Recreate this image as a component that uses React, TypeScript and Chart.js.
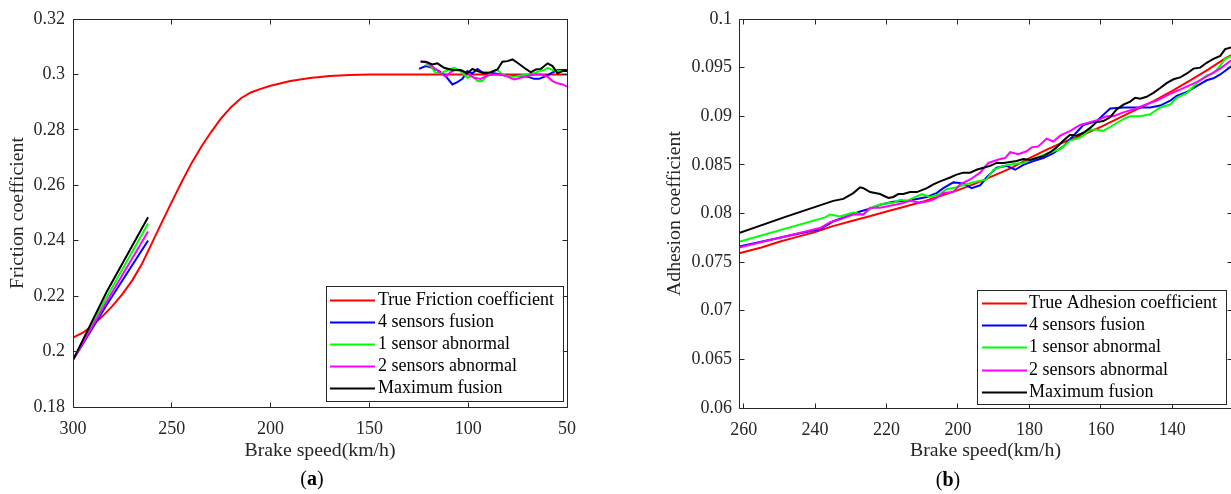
import React, { useEffect, useRef } from "react";
import { Chart, registerables } from "chart.js";

Chart.register(...registerables);

const FONT = "'Liberation Serif', 'Times New Roman', Times, serif";
const AXIS_COLOR = "#262626";

Chart.defaults.font.family = FONT;
Chart.defaults.font.size = 18;
Chart.defaults.color = AXIS_COLOR;

const LABELS = ["4 sensors fusion", "1 sensor abnormal", "2 sensors abnormal", "Maximum fusion"];
const COLORS = { red: "#ff0000", blue: "#0000ff", green: "#00ff00", magenta: "#ff00ff", black: "#000000" };

// ---------------- Panel (a): friction coefficient ----------------
const aXTicks = [50, 100, 150, 200, 250, 300];
const aYTicks = [0.18, 0.2, 0.22, 0.24, 0.26, 0.28, 0.3, 0.32];

const aTrueSpeed = [300, 295, 290, 285, 280, 275, 270, 265, 260, 255, 250, 245, 240, 235, 230, 225, 220, 215, 210, 205, 200, 190, 180, 170, 160, 150, 100, 50];
const aTrueValue = [0.205, 0.2068, 0.2095, 0.2128, 0.2165, 0.2207, 0.2257, 0.2318, 0.2392, 0.2467, 0.254, 0.2612, 0.268, 0.274, 0.2793, 0.2842, 0.2882, 0.2914, 0.2935, 0.2948, 0.2959, 0.2976, 0.2987, 0.2994, 0.2998, 0.3, 0.3, 0.3];

const aSteepSpeed = [300, 283, 262];
const aBlueSteep = [0.197, 0.2168, 0.2401];
const aGreenSteep = [0.197, 0.2195, 0.2462];
const aMagentaSteep = [0.197, 0.218, 0.2433];
const aBlackSteep = [0.197, 0.2215, 0.2485];

const aBlueNoisySpeed = [124.9, 121.5, 118.1, 114.8, 111.4, 108.0, 105.5, 102.9, 100.4, 97.9, 95.3, 92.8, 90.3, 86.9, 83.5, 80.1, 76.7, 73.4, 70.0, 66.6, 64.1, 60.7, 58.2, 54.8, 51.4, 50];
const aBlueNoisy = [0.302, 0.303, 0.3024, 0.3012, 0.2994, 0.2964, 0.2972, 0.2984, 0.3012, 0.3004, 0.302, 0.3008, 0.3006, 0.3004, 0.3, 0.2994, 0.2994, 0.2996, 0.2992, 0.2984, 0.2984, 0.2994, 0.3004, 0.3016, 0.3016, 0.3016];

const aGreenNoisySpeed = [121.5, 119.0, 116.5, 113.9, 110.5, 107.1, 104.6, 102.1, 100.4, 97.9, 95.3, 92.8, 90.3, 87.7, 85.2, 82.7, 80.1, 76.7, 73.4, 70.0, 66.6, 64.1, 61.5, 59.8, 57.3, 54.8, 50];
const aGreenNoisy = [0.3036, 0.303, 0.3006, 0.3004, 0.3016, 0.3024, 0.3016, 0.3, 0.2988, 0.2994, 0.2976, 0.2976, 0.2994, 0.3012, 0.3016, 0.3, 0.2994, 0.2992, 0.2996, 0.3, 0.3004, 0.3012, 0.3016, 0.3024, 0.3016, 0.3012, 0.3012];

const aMagentaNoisySpeed = [124.1, 120.7, 117.3, 113.9, 111.4, 108.9, 106.6, 102.9, 100.4, 97.0, 93.6, 90.3, 86.9, 83.5, 80.1, 76.7, 73.4, 70.0, 66.6, 63.2, 59.8, 57.3, 54.8, 52.2, 50];
const aMagentaNoisy = [0.3048, 0.3042, 0.3024, 0.3004, 0.2992, 0.3008, 0.3016, 0.3012, 0.3004, 0.2988, 0.2984, 0.2996, 0.3, 0.3, 0.2992, 0.2982, 0.2988, 0.2994, 0.3, 0.3, 0.2992, 0.2976, 0.2968, 0.2964, 0.2956];

const aBlackNoisySpeed = [124.1, 121.5, 118.1, 115.6, 112.2, 108.0, 103.8, 100.4, 97.9, 95.3, 92.0, 88.6, 85.2, 82.7, 80.1, 77.6, 75.1, 71.7, 68.3, 65.7, 63.2, 59.8, 57.3, 54.8, 52.2, 50];
const aBlackNoisy = [0.3046, 0.3046, 0.3036, 0.304, 0.3024, 0.3016, 0.3016, 0.3004, 0.302, 0.3012, 0.3004, 0.3008, 0.3018, 0.3046, 0.3048, 0.3054, 0.3042, 0.3024, 0.3008, 0.3018, 0.302, 0.304, 0.303, 0.3004, 0.3012, 0.3012];

// ---------------- Panel (b): adhesion coefficient ----------------
const bXTicks = [140, 160, 180, 200, 220, 240, 260];
const bYTicks = [0.06, 0.065, 0.07, 0.075, 0.08, 0.085, 0.09, 0.095, 0.1];

const bTrueSpeed = [261.3, 255, 250, 245, 240, 235, 230, 225, 220, 215, 210, 205, 200, 195, 190, 185, 180, 175, 170, 165, 160, 155, 150, 145, 140, 135, 130, 125, 123.3];
const bTrueValue = [0.0759, 0.0765, 0.0771, 0.0776, 0.0781, 0.0787, 0.0792, 0.0797, 0.0802, 0.0807, 0.0812, 0.0818, 0.0824, 0.0831, 0.0839, 0.0847, 0.0857, 0.0866, 0.0874, 0.0881, 0.0889, 0.0898, 0.0907, 0.0916, 0.0926, 0.0937, 0.0948, 0.096, 0.0963];

const bBlueSpeed = [261.3, 238.6, 234.9, 231.1, 227.4, 223.7, 221.8, 218.1, 214.3, 211.5, 208.7, 206.0, 204.1, 201.3, 198.5, 196.2, 193.8, 192.0, 189.2, 186.4, 184.0, 181.7, 178.9, 176.1, 173.3, 170.5, 167.7, 164.9, 161.2, 157.4, 153.7, 150.0, 146.2, 143.4, 140.6, 138.8, 135.9, 133.2, 130.4, 128.5, 126.6, 123.3];
const bBlue = [0.0766, 0.0784, 0.0792, 0.0797, 0.0802, 0.0806, 0.0809, 0.0812, 0.0813, 0.0815, 0.0817, 0.0821, 0.0826, 0.0832, 0.0831, 0.0826, 0.0829, 0.0837, 0.0847, 0.0849, 0.0845, 0.085, 0.0854, 0.0857, 0.0862, 0.0869, 0.088, 0.0891, 0.0895, 0.0908, 0.0909, 0.0909, 0.0909, 0.0911, 0.0916, 0.0921, 0.0925, 0.0931, 0.0937, 0.0939, 0.0943, 0.0952];

const bGreenSpeed = [261.3, 237.2, 235.8, 233.0, 229.3, 226.5, 223.7, 220.9, 218.1, 216.2, 214.3, 212.5, 210.1, 207.8, 205.0, 203.2, 200.4, 197.6, 194.8, 192.0, 190.1, 187.3, 184.5, 181.7, 179.8, 177.0, 174.2, 171.4, 168.6, 165.8, 163.0, 161.2, 159.3, 156.5, 153.7, 151.8, 149.0, 146.2, 143.4, 140.6, 138.8, 135.9, 133.2, 130.4, 128.5, 126.6, 125.2, 123.3];
const bGreen = [0.0771, 0.0796, 0.0799, 0.0797, 0.0801, 0.0799, 0.0807, 0.081, 0.0811, 0.0814, 0.0813, 0.0816, 0.082, 0.0817, 0.082, 0.0825, 0.0827, 0.083, 0.0833, 0.0835, 0.0845, 0.0849, 0.0851, 0.0852, 0.0855, 0.0859, 0.0863, 0.0866, 0.0875, 0.0878, 0.0886, 0.0886, 0.0885, 0.0891, 0.0897, 0.09, 0.09, 0.0902, 0.0909, 0.0912, 0.0919, 0.0924, 0.0934, 0.0942, 0.0944, 0.0952, 0.0959, 0.0962];

const bMagentaSpeed = [261.3, 238.6, 235.8, 233.0, 229.3, 226.5, 224.6, 221.8, 219.0, 216.2, 213.4, 210.6, 207.8, 206.0, 204.1, 201.3, 199.4, 196.6, 193.8, 191.5, 188.2, 186.8, 185.4, 183.1, 180.8, 179.4, 177.5, 175.2, 173.3, 171.4, 168.6, 165.8, 163.0, 160.2, 158.4, 156.5, 153.7, 150.9, 148.1, 144.4, 140.6, 136.9, 133.2, 129.4, 126.6, 123.3];
const bMagenta = [0.0765, 0.0785, 0.0791, 0.0794, 0.0799, 0.0799, 0.0806, 0.0806, 0.0808, 0.081, 0.0813, 0.0811, 0.0813, 0.0816, 0.0821, 0.0822, 0.083, 0.0835, 0.0842, 0.0852, 0.0856, 0.0857, 0.0863, 0.0861, 0.0864, 0.0868, 0.0869, 0.0877, 0.0874, 0.088, 0.0885, 0.0891, 0.0894, 0.0897, 0.09, 0.09, 0.0904, 0.0907, 0.0911, 0.0916, 0.0923, 0.0929, 0.0935, 0.0943, 0.0949, 0.0958];

const bBlackSpeed = [261.3, 247.9, 234.9, 232.1, 229.3, 227.4, 226.5, 224.6, 221.8, 219.5, 218.1, 216.7, 215.3, 213.4, 211.5, 208.7, 206.9, 205.0, 202.2, 200.4, 198.5, 196.6, 194.8, 192.9, 191.0, 189.2, 187.3, 185.4, 183.6, 181.7, 179.8, 178.0, 176.1, 174.2, 172.4, 170.5, 168.6, 166.8, 164.9, 163.0, 161.2, 159.3, 157.4, 155.6, 153.7, 151.8, 150.4, 149.0, 147.2, 145.3, 143.4, 141.6, 139.7, 137.8, 135.9, 134.1, 132.2, 130.4, 128.5, 126.6, 125.2, 123.3];
const bBlack = [0.078, 0.0797, 0.0813, 0.0815, 0.0821, 0.0827, 0.0826, 0.0822, 0.082, 0.0816, 0.0817, 0.082, 0.082, 0.0822, 0.0822, 0.0826, 0.083, 0.0833, 0.0837, 0.084, 0.0842, 0.0842, 0.0845, 0.0847, 0.0849, 0.0852, 0.0852, 0.0853, 0.0854, 0.0856, 0.0855, 0.0857, 0.0859, 0.0863, 0.0868, 0.0875, 0.0881, 0.088, 0.0883, 0.0888, 0.0894, 0.0895, 0.0899, 0.0907, 0.0912, 0.0915, 0.0919, 0.0918, 0.092, 0.0924, 0.0929, 0.0934, 0.0938, 0.094, 0.0944, 0.0949, 0.095, 0.0955, 0.0959, 0.0962, 0.0969, 0.0971];

// ---------------- helpers ----------------
type P = { x: number; y: number | null };
const pts = (xs: number[], ys: number[]): P[] => xs.map((x, i) => ({ x, y: ys[i] }));
const GAP: P = { x: 190, y: null };

const TITLE_SIZE = 19.8;

const line = (label: string, color: string, data: P[], order: number) => ({
  label,
  data,
  borderColor: color,
  backgroundColor: color,
  borderWidth: 2,
  pointRadius: 0,
  tension: 0,
  fill: false,
  spanGaps: false,
  order,
});

const matlabAxes = {
  id: "matlabAxes",
  afterDatasetsDraw(chart: any) {
    const { ctx, chartArea: a, scales } = chart;
    const L = 5;
    const l = Math.floor(a.left) + 0.5;
    const r = Math.floor(a.right) + 0.5;
    const t = Math.floor(a.top) + 0.5;
    const b = Math.floor(a.bottom) + 0.5;
    ctx.save();
    ctx.strokeStyle = AXIS_COLOR;
    ctx.lineWidth = 1;
    ctx.beginPath();
    ctx.rect(l, t, r - l, b - t);
    scales.x.ticks.forEach((tk: any) => {
      const px = Math.floor(scales.x.getPixelForValue(tk.value)) + 0.5;
      ctx.moveTo(px, b);
      ctx.lineTo(px, b - L);
      ctx.moveTo(px, t);
      ctx.lineTo(px, t + L);
    });
    scales.y.ticks.forEach((tk: any) => {
      const py = Math.floor(scales.y.getPixelForValue(tk.value)) + 0.5;
      ctx.moveTo(l, py);
      ctx.lineTo(l + L, py);
      ctx.moveTo(r, py);
      ctx.lineTo(r - L, py);
    });
    ctx.stroke();
    ctx.restore();
  },
};

const boxLegend = {
  id: "boxLegend",
  afterDraw(chart: any, _args: any, o: any) {
    const { ctx } = chart;
    ctx.save();
    ctx.fillStyle = "#ffffff";
    ctx.fillRect(o.x, o.y, o.w, o.h);
    ctx.strokeStyle = AXIS_COLOR;
    ctx.lineWidth = 1;
    ctx.strokeRect(Math.floor(o.x) + 0.5, Math.floor(o.y) + 0.5, Math.round(o.w), Math.round(o.h));
    ctx.font = `18px ${FONT}`;
    ctx.textBaseline = "middle";
    ctx.textAlign = "left";
    chart.data.datasets.forEach((ds: any, i: number) => {
      const cy = Math.round(o.y + o.rowTop + i * o.rowGap) + 0.5;
      ctx.strokeStyle = ds.borderColor;
      ctx.lineWidth = 2;
      ctx.beginPath();
      ctx.moveTo(o.x + o.lineX0, cy);
      ctx.lineTo(o.x + o.lineX1, cy);
      ctx.stroke();
      ctx.fillStyle = "#000000";
      ctx.fillText(ds.label, o.x + o.textX, cy);
    });
    ctx.restore();
  },
};

type PanelCfg = {
  datasets: any[];
  xMin: number;
  xMax: number;
  xTicks: number[];
  yMin: number;
  yMax: number;
  yTicks: number[];
  yTitle: string;
  yAxisWidth: number;
  yTitlePad: number;
  yTickPad: number;
  xAxisHeight: number;
  padRight: number;
  padTop: number;
  legend: any;
};

function makeConfig(c: PanelCfg): any {
  return {
    type: "line",
    data: { datasets: c.datasets },
    plugins: [matlabAxes, boxLegend],
    options: {
      animation: false,
      responsive: false,
      maintainAspectRatio: false,
      font: { family: FONT, size: 18 },
      layout: { padding: { left: 0, right: c.padRight, top: c.padTop, bottom: 0 } },
      plugins: {
        legend: { display: false },
        tooltip: { enabled: false },
        boxLegend: c.legend,
      },
      scales: {
        x: {
          type: "linear",
          position: "bottom",
          reverse: true,
          min: c.xMin,
          max: c.xMax,
          grid: { display: false, drawTicks: false },
          border: { display: false },
          afterBuildTicks: (s: any) => {
            s.ticks = c.xTicks.map((v) => ({ value: v }));
          },
          afterFit: (s: any) => {
            s.height = c.xAxisHeight;
          },
          ticks: {
            color: AXIS_COLOR,
            font: { family: FONT, size: 18 },
            padding: 11,
            maxRotation: 0,
            autoSkip: false,
            callback: (v: any) => String(v),
          },
          title: {
            display: true,
            text: "Brake speed(km/h)",
            color: AXIS_COLOR,
            font: { family: FONT, size: TITLE_SIZE },
            padding: { top: 0, bottom: 31 },
          },
        },
        y: {
          type: "linear",
          position: "left",
          min: c.yMin,
          max: c.yMax,
          grid: { display: false, drawTicks: false },
          border: { display: false },
          afterBuildTicks: (s: any) => {
            s.ticks = c.yTicks.map((v) => ({ value: v }));
          },
          afterFit: (s: any) => {
            s.width = c.yAxisWidth;
          },
          ticks: {
            color: AXIS_COLOR,
            font: { family: FONT, size: 18 },
            padding: c.yTickPad,
            autoSkip: false,
            callback: (v: any) => String(v),
          },
          title: {
            display: true,
            text: c.yTitle,
            color: AXIS_COLOR,
            font: { family: FONT, size: TITLE_SIZE },
            padding: { top: c.yTitlePad, bottom: 0 },
          },
        },
      },
    },
  };
}

function ChartCanvas({ cfg, width, height }: { cfg: () => any; width: number; height: number }) {
  const ref = useRef<HTMLCanvasElement | null>(null);
  useEffect(() => {
    if (!ref.current) return;
    const chart = new Chart(ref.current, cfg());
    return () => chart.destroy();
  }, []);
  return <canvas ref={ref} width={width} height={height} style={{ display: "block", width, height }} />;
}

const panelA = () =>
  makeConfig({
    datasets: [
      line("True Friction coefficient", COLORS.red, pts(aTrueSpeed, aTrueValue), 5),
      line(LABELS[0], COLORS.blue, [...pts(aSteepSpeed, aBlueSteep), GAP, ...pts(aBlueNoisySpeed, aBlueNoisy)], 4),
      line(LABELS[1], COLORS.green, [...pts(aSteepSpeed, aGreenSteep), GAP, ...pts(aGreenNoisySpeed, aGreenNoisy)], 3),
      line(LABELS[2], COLORS.magenta, [...pts(aSteepSpeed, aMagentaSteep), GAP, ...pts(aMagentaNoisySpeed, aMagentaNoisy)], 2),
      line(LABELS[3], COLORS.black, [...pts(aSteepSpeed, aBlackSteep), GAP, ...pts(aBlackNoisySpeed, aBlackNoisy)], 1),
    ],
    xMin: 50,
    xMax: 300,
    xTicks: aXTicks,
    yMin: 0.18,
    yMax: 0.32,
    yTicks: aYTicks,
    yTitle: "Friction coefficient",
    yAxisWidth: 73,
    yTitlePad: 6,
    yTickPad: 8,
    xAxisHeight: 87,
    padRight: 53,
    padTop: 19,
    legend: { x: 326, y: 286, w: 237, h: 115, rowTop: 14, rowGap: 22, lineX0: 4, lineX1: 49, textX: 52 },
  });

const panelB = () =>
  makeConfig({
    datasets: [
      line("True Adhesion coefficient", COLORS.red, pts(bTrueSpeed, bTrueValue), 5),
      line(LABELS[0], COLORS.blue, pts(bBlueSpeed, bBlue), 4),
      line(LABELS[1], COLORS.green, pts(bGreenSpeed, bGreen), 3),
      line(LABELS[2], COLORS.magenta, pts(bMagentaSpeed, bMagenta), 2),
      line(LABELS[3], COLORS.black, pts(bBlackSpeed, bBlack), 1),
    ],
    xMin: 123.3,
    xMax: 261.3,
    xTicks: bXTicks,
    yMin: 0.06,
    yMax: 0.1,
    yTicks: bYTicks,
    yTitle: "Adhesion coefficient",
    yAxisWidth: 119,
    yTitlePad: 43,
    yTickPad: 7,
    xAxisHeight: 86,
    padRight: 8,
    padTop: 19,
    legend: { x: 357, y: 290, w: 249, h: 114, rowTop: 13, rowGap: 22.2, lineX0: 5, lineX1: 50, textX: 52 },
  });

export default function App() {
  const capStyle: React.CSSProperties = {
    position: "absolute",
    width: 100,
    textAlign: "center",
    fontFamily: FONT,
    fontSize: 20,
    lineHeight: "24px",
    color: "#000",
  };
  return (
    <div style={{ position: "absolute", left: 0, top: 0, width: 1231, height: 494, overflow: "hidden", background: "#fff" }}>
      <div style={{ position: "absolute", left: 0, top: 0 }}>
        <ChartCanvas cfg={panelA} width={620} height={494} />
      </div>
      <div style={{ position: "absolute", left: 620, top: 0 }}>
        <ChartCanvas cfg={panelB} width={620} height={494} />
      </div>
      <div style={{ ...capStyle, left: 262, top: 466 }}>
        (<b>a</b>)
      </div>
      <div style={{ ...capStyle, left: 898, top: 467 }}>
        (<b>b</b>)
      </div>
    </div>
  );
}
